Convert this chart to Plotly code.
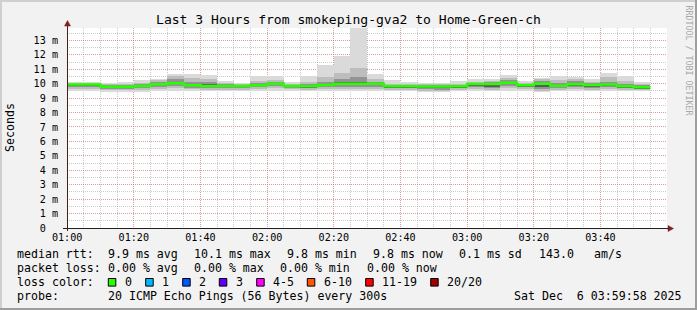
import plotly.graph_objects as go

# ---------------- data ----------------
DAY = "2025-12-06 "
bin_start = ["01:00", "01:05", "01:10", "01:15", "01:20", "01:25", "01:30", "01:35",
             "01:40", "01:45", "01:50", "01:55", "02:00", "02:05", "02:10", "02:15",
             "02:20", "02:25", "02:30", "02:35", "02:40", "02:45", "02:50", "02:55",
             "03:00", "03:05", "03:10", "03:15", "03:20", "03:25", "03:30", "03:35",
             "03:40", "03:45", "03:50"]
last_end = "03:55"

median_ms = [9.94, 9.94, 9.78, 9.78, 9.84, 9.96, 10.03, 9.89, 9.84, 9.84, 9.84, 9.89, 10.0, 9.84,
             9.82, 9.91, 10.0, 10.0, 10.0, 9.82, 9.82, 9.80, 9.80, 9.82, 9.98, 9.98, 10.07, 9.89,
             10.0, 9.86, 9.96, 9.91, 9.94, 9.82, 9.76]

# smoke bands (outer -> inner), top and bottom of each band, ms
smoke1_hi = [10.12, 10.10, 10.07, 10.10, 10.23, 10.33, 10.65, 10.67, 10.63, 10.20, 10.07, 10.50,
             10.50, 10.12, 10.50, 11.30, 11.92, 13.86, 10.68, 10.28, 10.12, 10.05, 10.05, 10.20,
             10.30, 10.35, 10.58, 10.17, 10.42, 10.51, 10.48, 10.33, 10.74, 10.51, 10.12]
smoke2_hi = [10.06, 10.05, 9.98, 10.00, 10.05, 10.25, 10.50, 10.40, 10.35, 10.05, 9.98, 10.20,
             10.25, 10.00, 10.12, 10.45, 10.74, 11.08, 10.35, 10.00, 9.98, 9.95, 9.95, 10.00,
             10.15, 10.20, 10.40, 10.05, 10.30, 10.25, 10.35, 10.15, 10.45, 10.20, 10.00]
smoke3_hi = [10.00, 10.00, 9.90, 9.92, 9.95, 10.12, 10.30, 10.15, 10.10, 9.98, 9.93, 10.05,
             10.12, 9.93, 9.95, 10.15, 10.35, 10.47, 10.15, 9.92, 9.90, 9.88, 9.88, 9.92,
             10.05, 10.10, 10.25, 9.97, 10.20, 10.05, 10.20, 10.05, 10.15, 10.00, 9.90]
smoke4_hi = [9.97, 9.97, 9.84, 9.84, 9.90, 10.02, 10.12, 10.00, 9.95, 9.92, 9.90, 9.97,
             10.05, 9.90, 9.88, 10.00, 10.12, 10.15, 10.06, 9.88, 9.86, 9.84, 9.84, 9.87,
             10.02, 10.03, 10.12, 9.93, 10.08, 9.93, 10.05, 9.97, 10.00, 9.88, 9.82]
smoke4_lo = [9.88, 9.88, 9.72, 9.72, 9.78, 9.88, 9.95, 9.82, 9.78, 9.78, 9.78, 9.82,
             9.92, 9.78, 9.76, 9.84, 9.92, 9.92, 9.92, 9.75, 9.75, 9.72, 9.70, 9.75,
             9.90, 9.80, 9.95, 9.82, 9.80, 9.78, 9.85, 9.80, 9.85, 9.75, 9.70]
smoke3_lo = [9.80, 9.80, 9.65, 9.65, 9.70, 9.78, 9.85, 9.72, 9.70, 9.70, 9.70, 9.74,
             9.82, 9.70, 9.68, 9.74, 9.80, 9.80, 9.80, 9.68, 9.68, 9.62, 9.58, 9.68,
             9.80, 9.70, 9.82, 9.74, 9.65, 9.70, 9.74, 9.70, 9.75, 9.68, 9.63]
smoke2_lo = [9.65, 9.65, 9.55, 9.55, 9.55, 9.62, 9.70, 9.60, 9.58, 9.58, 9.58, 9.60,
             9.68, 9.60, 9.58, 9.60, 9.65, 9.65, 9.65, 9.58, 9.58, 9.52, 9.48, 9.58,
             9.65, 9.58, 9.68, 9.62, 9.52, 9.58, 9.62, 9.58, 9.62, 9.58, 9.55]
smoke1_lo = [9.50, 9.50, 9.45, 9.45, 9.42, 9.48, 9.52, 9.50, 9.48, 9.48, 9.48, 9.48,
             9.52, 9.48, 9.47, 9.48, 9.50, 9.50, 9.50, 9.48, 9.48, 9.43, 9.40, 9.48,
             9.50, 9.48, 9.52, 9.50, 9.43, 9.48, 9.50, 9.48, 9.50, 9.48, 9.47]

y_tick_vals = list(range(14))
y_tick_text = ["0\u00a0\u00a0"] + [f"{v} m" for v in range(1, 14)]
x_tick_labels = ["01:00", "01:20", "01:40", "02:00", "02:20", "02:40", "03:00", "03:20", "03:40"]

loss_labels = ["0", "1", "2", "3", "4-5", "6-10", "11-19", "20/20"]
loss_colors = ["#26ff00", "#00b8ff", "#0059ff", "#5e00ff", "#ff00ff", "#ff5500", "#ff0000", "#a10000"]

title = "Last 3 Hours from smokeping-gva2 to Home-Green-ch"

# ---------------- geometry helpers ----------------
W, H = 697, 310
PL, PR, PT, PB = 67, 667, 28, 228
MONO = "DejaVu Sans Mono"


def px(x):
    return (x - PL) / (PR - PL)


def py(y):
    return (PB - y) / (PB - PT)


fig = go.Figure()
xs = [DAY + t for t in bin_start]
bands = [(smoke1_lo, smoke1_hi, "#dadada"), (smoke2_lo, smoke2_hi, "#bdbdbd"),
         (smoke3_lo, smoke3_hi, "#939393"), (smoke4_lo, smoke4_hi, "#5a5a5a")]
for lo, hi, col in bands:
    fig.add_trace(go.Bar(x=xs, y=[h - l for h, l in zip(hi, lo)], base=lo,
                         width=300000, offset=0,
                         marker=dict(color=col, line=dict(width=0)), hoverinfo="skip"))
fig.add_trace(go.Scatter(x=xs + [DAY + last_end], y=median_ms + [median_ms[-1]],
                         mode="lines", line=dict(color=loss_colors[0], width=2.5, shape="hv"),
                         hoverinfo="skip"))

grid_major = "rgba(230,100,100,0.42)"
grid_minor = "rgba(150,150,150,0.5)"

fig.update_layout(
    width=W, height=H, margin=dict(l=PL, r=W - PR, t=PT, b=H - PB, pad=0),
    paper_bgcolor="#f2f2f2", plot_bgcolor="#ffffff", showlegend=False,
    barmode="overlay", bargap=0,
    font=dict(family=MONO, color="#000000"),
    title=dict(text=title, x=0.5, xref="container", xanchor="center",
               y=1 - 19.5 / H, yref="container", yanchor="middle",
               font=dict(family=MONO, size=13.05, color="#000000")),
)
fig.update_xaxes(
    type="date", range=[DAY + "00:59:58", DAY + "03:59:58"],
    tickvals=[DAY + t for t in x_tick_labels], ticktext=x_tick_labels,
    showgrid=True, gridcolor=grid_major, gridwidth=1, griddash="1px,1px",
    minor=dict(tickmode="linear", tick0=DAY + "01:00", dtick=300000, showgrid=True,
               gridcolor=grid_minor, gridwidth=1, griddash="1px,1px"),
    zeroline=False, showline=False, ticks="", tickfont=dict(family=MONO, size=10.15),
    ticklabelstandoff=2,
)
fig.update_yaxes(
    range=[0, 13.86], tickvals=y_tick_vals, ticktext=y_tick_text,
    showgrid=True, gridcolor=grid_major, gridwidth=1, griddash="1px,1px",
    minor=dict(tickmode="linear", tick0=0, dtick=0.5, showgrid=True,
               gridcolor=grid_minor, gridwidth=1, griddash="1px,1px"),
    zeroline=False, showline=False, ticks="", tickfont=dict(family=MONO, size=10.15),
    ticklabelstandoff=8,
)

shapes = []
# frame shading
shapes.append(dict(type="rect", xref="paper", yref="paper", x0=px(0), x1=px(W), y0=py(0), y1=py(2),
                   fillcolor="#cfcfcf", line=dict(width=0), layer="below"))
shapes.append(dict(type="rect", xref="paper", yref="paper", x0=px(0), x1=px(2), y0=py(0), y1=py(H),
                   fillcolor="#cfcfcf", line=dict(width=0), layer="below"))
shapes.append(dict(type="rect", xref="paper", yref="paper", x0=px(0), x1=px(W), y0=py(H - 2), y1=py(H),
                   fillcolor="#9e9e9e", line=dict(width=0), layer="below"))
shapes.append(dict(type="rect", xref="paper", yref="paper", x0=px(W - 2), x1=px(W), y0=py(0), y1=py(H),
                   fillcolor="#9e9e9e", line=dict(width=0), layer="below"))
# axes
shapes.append(dict(type="line", xref="paper", yref="paper", x0=px(63), x1=px(669), y0=py(228.5), y1=py(228.5),
                   line=dict(color="#1f1f1f", width=1)))
shapes.append(dict(type="line", xref="paper", yref="paper", x0=px(67.5), x1=px(67.5), y0=py(231), y1=py(25),
                   line=dict(color="#4a1d1d", width=1)))
# arrows
shapes.append(dict(type="path", xref="paper", yref="paper",
                   path=f"M {px(64.5)} {py(26)} L {px(70.5)} {py(26)} L {px(67.5)} {py(20.5)} Z",
                   fillcolor="#801f1f", line=dict(color="#801f1f", width=0.5)))
shapes.append(dict(type="path", xref="paper", yref="paper",
                   path=f"M {px(668)} {py(225.5)} L {px(668)} {py(231.5)} L {px(673.5)} {py(228.5)} Z",
                   fillcolor="#801f1f", line=dict(color="#801f1f", width=0.5)))

annotations = []


def txt(x, y, s, size=11.6, color="#000000", anchor="left", angle=0):
    annotations.append(dict(xref="paper", yref="paper", x=px(x), y=py(y), text=s, showarrow=False,
                            xanchor=anchor, yanchor="middle", textangle=angle, borderpad=0,
                            font=dict(family=MONO, size=size, color=color)))


# unit label and watermark
txt(10, 128, "Seconds", size=11.6, anchor="center", angle=-90)
txt(688.5, 60, "RRDTOOL / TOBI OETIKER", size=8.3, color="#a8a8a8", anchor="center", angle=90)

# legend rows
r1, r2, r3, r4 = 254.3, 268.3, 282.3, 296.3
txt(16, r1, "median rtt:")
txt(107, r1, "9.9 ms avg")
txt(193, r1, "10.1 ms max")
txt(286, r1, "9.8 ms min")
txt(372, r1, "9.8 ms now")
txt(458, r1, "0.1 ms sd")
txt(537.5, r1, "143.0")
txt(593, r1, "am/s")

txt(16, r2, "packet loss:")
txt(107, r2, "0.00 % avg")
txt(193, r2, "0.00 % max")
txt(279, r2, "0.00 % min")
txt(365.5, r2, "0.00 % now")

txt(16, r3, "loss color:")
box_x = [108.3, 145.7, 182.7, 219.3, 256.7, 307.3, 365.7, 430.7]
for bx, lab, col in zip(box_x, loss_labels, loss_colors):
    shapes.append(dict(type="rect", xref="paper", yref="paper", x0=px(bx), x1=px(bx + 7.5),
                       y0=py(r3 + 3.8), y1=py(r3 - 3.8), fillcolor=col,
                       line=dict(color="#000000", width=1)))
    txt(bx + 15.5, r3, lab)

txt(16, r4, "probe:")
txt(107, r4, "20 ICMP Echo Pings (56 Bytes) every 300s")
txt(513, r4, "Sat Dec  6 03:59:58 2025".replace("  ", "\u00a0\u00a0"))

fig.update_layout(shapes=shapes, annotations=annotations)
fig.write_html("out.html")
